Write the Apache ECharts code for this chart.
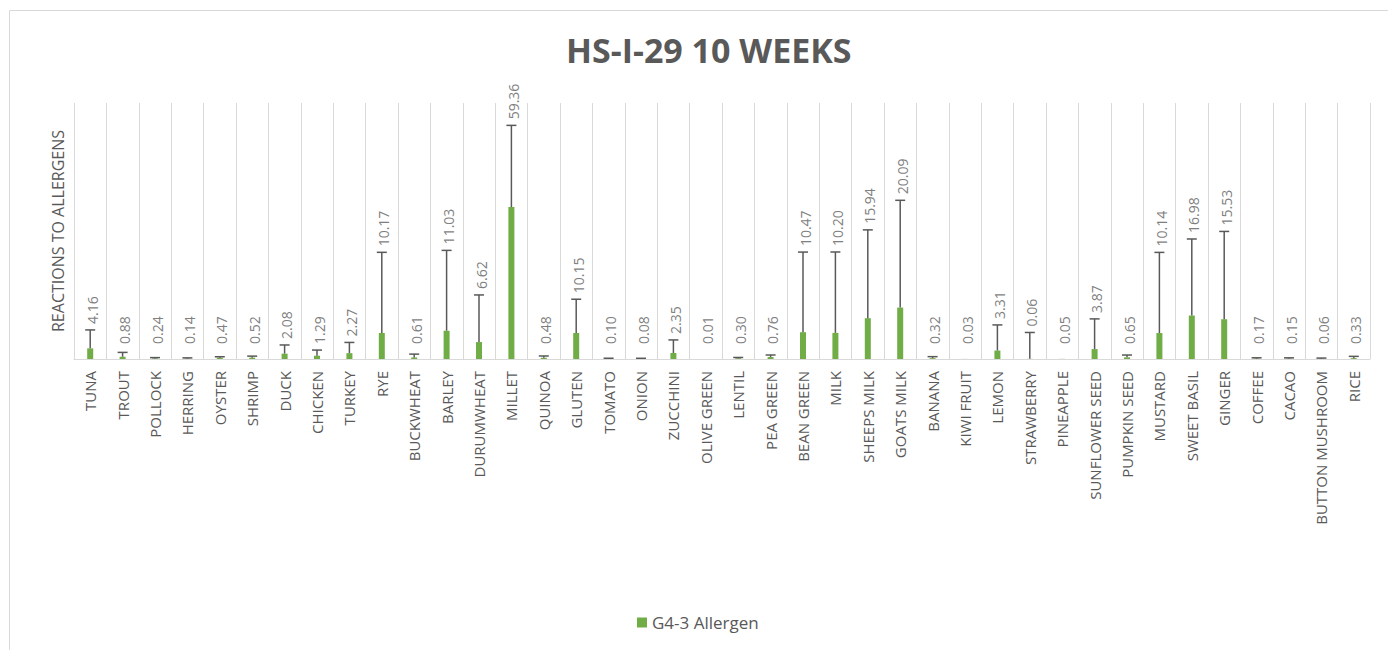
<!DOCTYPE html>
<html>
<head>
<meta charset="utf-8">
<title>HS-I-29 10 WEEKS</title>
<script src="https://cdn.jsdelivr.net/npm/echarts@6.0.0/dist/echarts.min.js"></script>
<style>
	html, body { margin: 0; padding: 0; background: #fff; }
	#chart { width: 1388px; height: 650px; }
</style>
</head>
<body>
<div id="chart"></div>
<script>
var categories = ['TUNA', 'TROUT', 'POLLOCK', 'HERRING', 'OYSTER', 'SHRIMP', 'DUCK', 'CHICKEN', 'TURKEY', 'RYE',
	'BUCKWHEAT', 'BARLEY', 'DURUMWHEAT', 'MILLET', 'QUINOA', 'GLUTEN', 'TOMATO', 'ONION', 'ZUCCHINI', 'OLIVE GREEN',
	'LENTIL', 'PEA GREEN', 'BEAN GREEN', 'MILK', 'SHEEPS MILK', 'GOATS MILK', 'BANANA', 'KIWI FRUIT', 'LEMON', 'STRAWBERRY',
	'PINEAPPLE', 'SUNFLOWER SEED', 'PUMPKIN SEED', 'MUSTARD', 'SWEET BASIL', 'GINGER', 'COFFEE', 'CACAO', 'BUTTON MUSHROOM', 'RICE'];

var allergenValues = [4.16, 0.88, 0.24, 0.14, 0.47, 0.52, 2.08, 1.29, 2.27, 10.17,
	0.61, 11.03, 6.62, 59.36, 0.48, 10.15, 0.10, 0.08, 2.35, 0.01,
	0.30, 0.76, 10.47, 10.20, 15.94, 20.09, 0.32, 0.03, 3.31, 0.06,
	0.05, 3.87, 0.65, 10.14, 16.98, 15.53, 0.17, 0.15, 0.06, 0.33];

// error bar size (plus side)
var allergenErrors = [7.2, 1.7, 0.3, 0.3, 0.4, 0.6, 3.4, 2.2, 4.2, 31.5,
	1.3, 31.4, 18.4, 31.9, 0.7, 13.2, 0.2, 0.2, 5.1, 0,
	0.3, 0.8, 31.3, 31.6, 34.5, 41.9, 0.6, 0, 10, 10.3,
	0, 11.8, 0.9, 31.5, 29.9, 34.3, 0.3, 0.3, 0.3, 0.7];

var seriesName = 'G4-3 Allergen';
var yMin = 0;
var yMax = 100;

var myChart = echarts.init(document.getElementById('chart'), null, { renderer: 'svg' });

var errorData = [];
for (var i = 0; i < categories.length; i++) {
	errorData.push([i, allergenValues[i], allergenErrors[i]]);
}

function renderError(params, api) {
	var idx = api.value(0);
	var val = api.value(1);
	var err = api.value(2);
	var bottom = api.coord([idx, val]);
	var top = api.coord([idx, val + err]);
	var base = api.coord([idx, 0]);
	var half = 5;
	var children = [];
	if (err > 0) {
		children.push({
			type: 'line',
			shape: { x1: top[0], y1: top[1], x2: bottom[0], y2: bottom[1] },
			style: { stroke: '#595959', lineWidth: 1.5 }
		});
		children.push({
			type: 'line',
			shape: { x1: top[0] - half, y1: top[1], x2: top[0] + half, y2: top[1] },
			style: { stroke: '#595959', lineWidth: 1.5 }
		});
	}
	// value label sits above the error cap
	var labelY = Math.min(top[1] - 6, base[1] - 15);
	children.push({
		type: 'text',
		x: top[0] + 2,
		y: labelY,
		rotation: Math.PI / 2,
		style: {
			text: val.toFixed(2),
			fill: '#7f7f7f',
			font: '14px "Open Sans"',
			align: 'left',
			verticalAlign: 'middle'
		}
	});
	return { type: 'group', children: children };
}

var option = {
	animation: false,
	backgroundColor: '#fff',
	title: {
		text: 'HS-I-29 10 WEEKS',
		left: 561,
		top: 28,
		textStyle: {
			fontFamily: 'Open Sans',
			fontSize: 34,
			fontWeight: 'bold',
			color: '#595959'
		}
	},
	legend: {
		data: [seriesName],
		left: 632,
		top: 609,
		icon: 'rect',
		itemWidth: 10,
		itemHeight: 10,
		textStyle: {
			fontFamily: 'Open Sans',
			fontSize: 17,
			color: '#595959'
		}
	},
	grid: {
		left: 74,
		right: 18,
		top: 103,
		bottom: 291
	},
	graphic: [{
		type: 'rect',
		shape: { x: 9.5, y: 10.5, width: 1420, height: 660 },
		style: { fill: 'none', stroke: '#d9d9d9', lineWidth: 1 },
		silent: true
	}],
	xAxis: {
		type: 'category',
		data: categories,
		axisLine: { lineStyle: { color: '#d9d9d9', width: 1 } },
		axisTick: { show: false },
		splitLine: {
			show: true,
			interval: 0,
			lineStyle: { color: '#d9d9d9', width: 1 }
		},
		axisLabel: {
			interval: 0,
			rotate: 90,
			margin: 12,
			fontFamily: 'Open Sans',
			fontSize: 15,
			color: '#595959'
		}
	},
	yAxis: {
		type: 'value',
		min: yMin,
		max: yMax,
		name: 'REACTIONS TO ALLERGENS',
		nameLocation: 'middle',
		nameRotate: 90,
		nameGap: 8,
		nameTextStyle: {
			fontFamily: 'Open Sans',
			fontSize: 16,
			color: '#595959'
		},
		axisLine: { show: false },
		axisTick: { show: false },
		axisLabel: { show: false },
		splitLine: { show: false }
	},
	series: [{
		name: seriesName,
		type: 'bar',
		barWidth: 6,
		itemStyle: { color: '#70ad47' },
		data: allergenValues
	}, {
		name: 'error',
		type: 'custom',
		renderItem: renderError,
		data: errorData,
		z: 3,
		silent: true
	}]
};

myChart.setOption(option);

window.addEventListener('resize', function() {
	myChart.resize();
});
</script>
</body>
</html>
